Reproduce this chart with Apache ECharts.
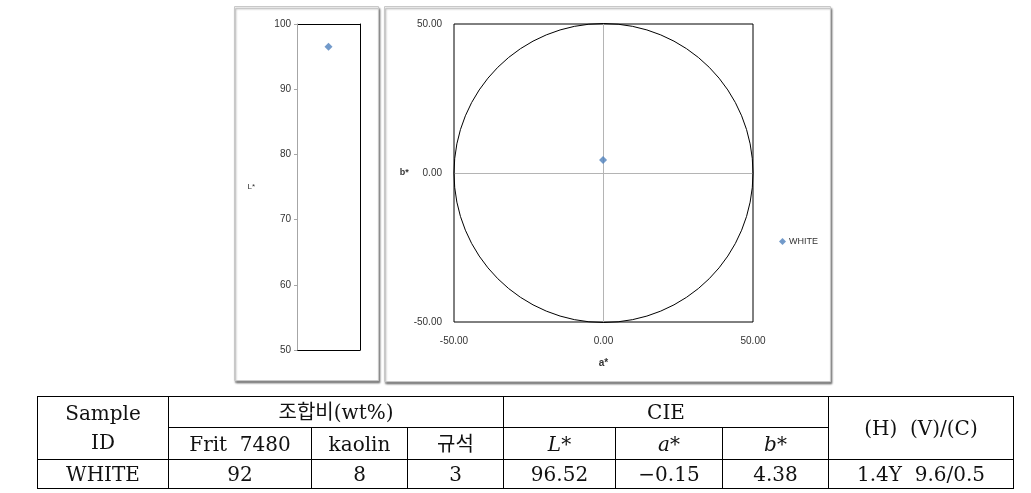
<!DOCTYPE html>
<html>
<head>
<meta charset="utf-8">
<script src="https://cdn.jsdelivr.net/npm/echarts@6/dist/echarts.min.js"></script>
<style>
  html, body { margin: 0; padding: 0; background: #fff; }
  #chart { position: absolute; left: 0; top: 0; width: 1031px; height: 493px; }
  table.t { position: absolute; left: 37px; top: 396px; width: 976px; border-collapse: collapse;
    font-family: "DejaVu Serif", "Liberation Serif", "Noto Sans CJK KR", serif; font-size: 20px; color: #111; table-layout: fixed; }
  table.t td { border: 1.5px solid #000; text-align: center; padding: 0; line-height: 1; white-space: pre; }
  table.t i { font-style: italic; }
</style>
</head>
<body>
<div id="chart"></div>
<table class="t" id="tbl">
  <colgroup>
    <col style="width:131px"><col style="width:143px"><col style="width:96px"><col style="width:96px">
    <col style="width:112px"><col style="width:107px"><col style="width:106px"><col style="width:185px">
  </colgroup>
</table>
<script>
// ---- data ----
const sampleIds = ['WHITE'];
const lValues = [96.52];
const aValues = [-0.15];
const bValues = [4.38];
const chromaRing = [50];
const lTicks = [50, 60, 70, 80, 90, 100];
const abTicks = [-50, 0, 50];
const mixHeaders = ['Frit  7480', 'kaolin', '규석'];
const fritValues = [92];
const kaolinValues = [8];
const silicaValues = [3];
const munsellValues = ['1.4Y  9.6/0.5'];

// ---- table ----
const tbl = document.getElementById('tbl');
const fmt = v => (v < 0 ? '\u2212' + Math.abs(v).toFixed(2) : v.toFixed(2));
let html = '';
html += '<tr style="height:31px"><td rowspan="2" style="line-height:1.45;white-space:normal">Sample<br>ID</td><td colspan="3">조합비(wt%)</td><td colspan="3">CIE</td><td rowspan="2">(H)  (V)/(C)</td></tr>';
html += '<tr style="height:32px"><td>' + mixHeaders[0] + '</td><td>' + mixHeaders[1] + '</td><td>' + mixHeaders[2] + '</td><td><i>L*</i></td><td><i>a*</i></td><td><i>b*</i></td></tr>';
sampleIds.forEach((id, i) => {
  html += '<tr style="height:29px"><td>' + id + '</td><td>' + fritValues[i] + '</td><td>' + kaolinValues[i] + '</td><td>' + silicaValues[i] +
    '</td><td>' + lValues[i].toFixed(2) + '</td><td>' + fmt(aValues[i]) + '</td><td>' + bValues[i].toFixed(2) + '</td><td>' + munsellValues[i] + '</td></tr>';
});
tbl.innerHTML = tbl.innerHTML + html;

// ---- chart ----
const chart = echarts.init(document.getElementById('chart'), null, { renderer: 'canvas' });
const lbl = { fontFamily: 'Liberation Sans, Arial, sans-serif', fontSize: 10, color: '#333' };
const blue = '#4F81BD';
const blackLine = { show: true, lineStyle: { color: '#000', width: 1 } };

chart.setOption({
  animation: false,
  graphic: [
    { type: 'rect', z: -10, shape: { x: 234.5, y: 6.5, width: 144, height: 374 },
      style: { fill: '#fff', stroke: '#c8c8c8', lineWidth: 1, shadowColor: 'rgba(0,0,0,0.45)', shadowOffsetX: 1, shadowOffsetY: 2, shadowBlur: 2 } },
    { type: 'rect', z: -10, shape: { x: 384.5, y: 6.5, width: 446, height: 375 },
      style: { fill: '#fff', stroke: '#c8c8c8', lineWidth: 1, shadowColor: 'rgba(0,0,0,0.45)', shadowOffsetX: 1, shadowOffsetY: 2, shadowBlur: 2 } }
  ],
  legend: {
    data: ['WHITE'], left: 774, top: 232, orient: 'vertical', icon: 'diamond',
    itemWidth: 7, itemHeight: 7, itemGap: 4,
    textStyle: { fontFamily: 'Liberation Sans, Arial, sans-serif', fontSize: 9, color: '#333', padding: [0, 0, 0, -2] }
  },
  grid: [
    { left: 297, top: 24, width: 63, height: 326, show: false },
    { left: 454, top: 24, width: 299, height: 298, show: true, borderColor: '#000', borderWidth: 1, backgroundColor: 'transparent' }
  ],
  xAxis: [
    { type: 'category', gridIndex: 0, data: sampleIds, position: 'bottom',
      axisLine: blackLine, axisTick: { show: false }, axisLabel: { show: false }, splitLine: { show: false } },
    { type: 'value', gridIndex: 1, min: -50, max: 50, interval: 50,
      axisLine: { show: false }, axisTick: { show: false },
      axisLabel: Object.assign({ margin: 14, formatter: v => v.toFixed(2) }, lbl),
      splitLine: { show: true, lineStyle: { color: ['rgba(0,0,0,0)', '#b4b4b4', 'rgba(0,0,0,0)'], width: 1 } },
      name: 'a*', nameLocation: 'middle', nameGap: 36,
      nameTextStyle: { fontFamily: 'Liberation Sans, Arial, sans-serif', fontSize: 10, fontWeight: 'bold', color: '#333' } },
    { type: 'category', gridIndex: 0, data: sampleIds, position: 'top',
      axisLine: blackLine, axisTick: { show: false }, axisLabel: { show: false }, splitLine: { show: false } }
  ],
  yAxis: [
    { type: 'value', gridIndex: 0, min: 50, max: 100, interval: 10, z: 10,
      axisLine: { show: true, lineStyle: { color: '#a6a6a6' } },
      axisTick: { show: true, length: 3, lineStyle: { color: '#a6a6a6' } },
      axisLabel: Object.assign({ margin: 6 }, lbl),
      splitLine: { show: false },
      name: 'L*', nameLocation: 'middle', nameGap: 42, nameRotate: 0,
      nameTextStyle: { fontFamily: 'Liberation Sans, Arial, sans-serif', fontSize: 8, color: '#333' } },
    { type: 'value', gridIndex: 1, min: -50, max: 50, interval: 50,
      axisLine: { show: false }, axisTick: { show: false },
      axisLabel: Object.assign({ margin: 12, formatter: v => v.toFixed(2) }, lbl),
      splitLine: { show: true, lineStyle: { color: ['rgba(0,0,0,0)', '#b4b4b4', 'rgba(0,0,0,0)'], width: 1 } },
      name: 'b*', nameLocation: 'middle', nameGap: 44, nameRotate: 0,
      nameTextStyle: { fontFamily: 'Liberation Sans, Arial, sans-serif', fontSize: 9, fontWeight: 'bold', color: '#333' } },
    { type: 'value', gridIndex: 0, min: 50, max: 100, interval: 10, position: 'right',
      axisLine: blackLine, axisTick: { show: false }, axisLabel: { show: false }, splitLine: { show: false } }
  ],
  series: [
    { name: 'WHITE', type: 'scatter', xAxisIndex: 0, yAxisIndex: 0, symbol: 'diamond', symbolSize: 8,
      itemStyle: { color: blue }, data: sampleIds.map((id, i) => [id, lValues[i]]), z: 5 },
    { name: 'ring', type: 'custom', xAxisIndex: 1, yAxisIndex: 1, silent: true, z: 3,
      data: chromaRing.map(r => [0, 0, r]),
      renderItem: (params, api) => {
        const c = api.coord([api.value(0), api.value(1)]);
        const s = api.size([api.value(2), api.value(2)]);
        return { type: 'circle', shape: { cx: c[0], cy: c[1], r: s[0] },
          style: { fill: 'none', stroke: '#000', lineWidth: 1 } };
      } },
    { name: 'WHITE', type: 'scatter', xAxisIndex: 1, yAxisIndex: 1, symbol: 'diamond', symbolSize: 8,
      itemStyle: { color: blue }, data: aValues.map((a, i) => [a, bValues[i]]), z: 5 }
  ]
});
</script>
</body>
</html>
